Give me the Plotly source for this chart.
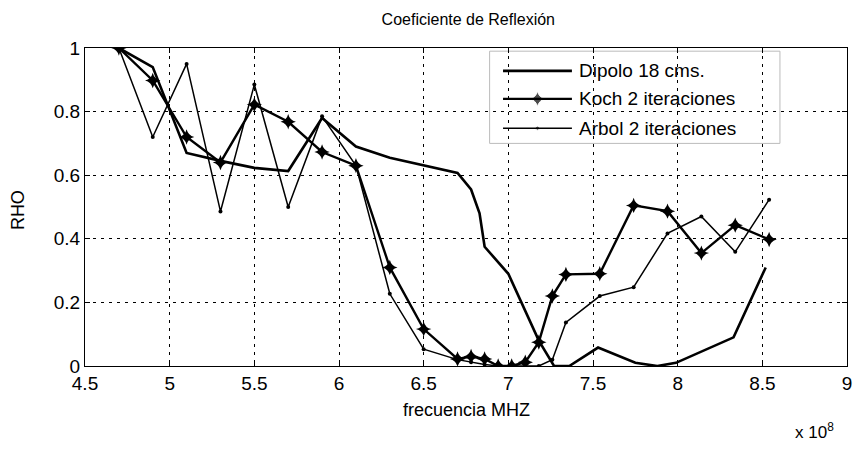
import plotly.graph_objects as go

# Frequency samples (x 10^8 Hz)
freq_dipolo = [4.7, 4.9, 5.1, 5.3, 5.5, 5.7, 5.9, 6.1, 6.3, 6.5, 6.7, 6.78, 6.83, 6.86,
               7.0, 7.18, 7.25, 7.27, 7.36, 7.53, 7.75, 7.88, 7.99, 8.33, 8.52]
rho_dipolo = [1.0, 0.94, 0.67, 0.645, 0.623, 0.613, 0.78, 0.69, 0.655, 0.632, 0.607, 0.555, 0.48, 0.375,
              0.29, 0.08, 0.016, 0.0, 0.0, 0.058, 0.01, 0.0, 0.01, 0.09, 0.31]

freq_koch = [4.7, 4.9, 5.1, 5.3, 5.5, 5.7, 5.9, 6.1, 6.3, 6.5, 6.7, 6.78, 6.86, 6.94,
             7.02, 7.1, 7.18, 7.26, 7.34, 7.54, 7.74, 7.94, 8.14, 8.34, 8.54]
rho_koch = [1.0, 0.898, 0.72, 0.64, 0.822, 0.768, 0.673, 0.63, 0.31, 0.116, 0.022, 0.03, 0.022, 0.0,
            0.0, 0.012, 0.075, 0.22, 0.288, 0.29, 0.505, 0.487, 0.355, 0.443, 0.398]

freq_arbol = [4.7, 4.9, 5.1, 5.3, 5.5, 5.7, 5.9, 6.1, 6.3, 6.5, 6.7, 6.78, 6.86, 6.94,
              7.02, 7.1, 7.18, 7.26, 7.34, 7.54, 7.74, 7.94, 8.14, 8.34, 8.54]
rho_arbol = [1.0, 0.72, 0.95, 0.486, 0.885, 0.50, 0.785, 0.63, 0.227, 0.053, 0.02, 0.012, 0.005, 0.0,
             0.0, 0.0, 0.0, 0.02, 0.137, 0.22, 0.248, 0.417, 0.47, 0.359, 0.523]

x_ticks = [4.5, 5, 5.5, 6, 6.5, 7, 7.5, 8, 8.5, 9]
x_tick_text = ["4.5", "5", "5.5", "6", "6.5", "7", "7.5", "8", "8.5", "9"]
y_ticks = [0, 0.2, 0.4, 0.6, 0.8, 1]
y_tick_text = ["0", "0.2", "0.4", "0.6", "0.8", "1"]

series_names = ["Dipolo 18 cms.", "Koch 2 iteraciones", "Arbol 2 iteraciones"]
line_widths = [2.6, 2.4, 1.5]

FONT = "Liberation Sans, Arial, sans-serif"
X_RANGE = [4.5, 9]
Y_RANGE = [0, 1]

fig = go.Figure()

fig.add_trace(go.Scatter(x=freq_dipolo, y=rho_dipolo, mode="lines",
                         line=dict(color="black", width=line_widths[0]), name=series_names[0]))
fig.add_trace(go.Scatter(x=freq_koch, y=rho_koch, mode="lines+markers",
                         line=dict(color="black", width=line_widths[1]),
                         marker=dict(symbol="star-diamond", size=11, color="black"),
                         name=series_names[1]))
fig.add_trace(go.Scatter(x=freq_arbol, y=rho_arbol, mode="lines+markers",
                         line=dict(color="black", width=line_widths[2]),
                         marker=dict(symbol="circle", size=4, color="black"),
                         name=series_names[2]))

# Hand-built legend box (paper coordinates)
leg_x0, leg_x1 = 0.531, 0.912
leg_y0, leg_y1 = 0.70, 0.99
row_y = [0.928, 0.840, 0.748]
line_x0, line_x1, text_x = 0.5486, 0.639, 0.6457

def paper_to_x(p):
    return X_RANGE[0] + p * (X_RANGE[1] - X_RANGE[0])

def paper_to_y(p):
    return Y_RANGE[0] + p * (Y_RANGE[1] - Y_RANGE[0])

shapes = [dict(type="rect", xref="paper", yref="paper", x0=leg_x0, x1=leg_x1, y0=leg_y0, y1=leg_y1,
               line=dict(color="#bbbbbb", width=1), fillcolor="white", layer="between")]
for ry, w in zip(row_y, line_widths):
    shapes.append(dict(type="line", xref="paper", yref="paper", x0=line_x0, x1=line_x1, y0=ry, y1=ry,
                       line=dict(color="black", width=w), layer="above"))

# Legend sample markers
mid_x = paper_to_x((line_x0 + line_x1) / 2)
fig.add_trace(go.Scatter(x=[mid_x, mid_x], y=[paper_to_y(row_y[1]), paper_to_y(row_y[2])],
                         mode="markers",
                         marker=dict(symbol=["star-diamond", "circle"], size=[11, 4], color="black"),
                         showlegend=False, hoverinfo="skip", cliponaxis=False))

annotations = []
for ry, name in zip(row_y, series_names):
    annotations.append(dict(x=text_x, y=ry, xref="paper", yref="paper", text=name, showarrow=False,
                            xanchor="left", yanchor="middle", font=dict(family=FONT, size=19, color="black")))
annotations.append(dict(x=-0.088, y=0.49, xref="paper", yref="paper", text="RHO", textangle=-90,
                        showarrow=False, xanchor="center", yanchor="middle",
                        font=dict(family=FONT, size=18, color="black")))
annotations.append(dict(x=0.5, y=-0.138, xref="paper", yref="paper", text="frecuencia MHZ",
                        showarrow=False, xanchor="center", yanchor="middle",
                        font=dict(family=FONT, size=18, color="black")))
annotations.append(dict(x=0.985, y=-0.165, xref="paper", yref="paper", text="x 10<sup>8</sup>",
                        showarrow=False, xanchor="right", yanchor="top",
                        font=dict(family=FONT, size=17, color="black")))

fig.update_layout(
    width=853, height=449,
    margin=dict(l=85, r=6, t=48, b=83),
    paper_bgcolor="white", plot_bgcolor="white",
    showlegend=False,
    font=dict(family=FONT, size=18, color="black"),
    title=dict(text="Coeficiente de Reflexión", x=0.549, xanchor="center",
               y=1 - 19 / 449, yanchor="middle", font=dict(family=FONT, size=16, color="black")),
    xaxis=dict(range=X_RANGE, tickvals=x_ticks, ticktext=x_tick_text,
               showgrid=True, gridcolor="black", gridwidth=1, griddash="3px,5px",
               showline=True, linecolor="black", linewidth=1, mirror="ticks",
               ticks="inside", ticklen=5, tickcolor="black", zeroline=False, automargin=False,
               tickfont=dict(family=FONT, size=19)),
    yaxis=dict(range=Y_RANGE, tickvals=y_ticks, ticktext=y_tick_text,
               showgrid=True, gridcolor="black", gridwidth=1, griddash="3px,5px",
               showline=True, linecolor="black", linewidth=1, mirror="ticks",
               ticks="inside", ticklen=5, tickcolor="black", zeroline=False, automargin=False,
               tickfont=dict(family=FONT, size=19)),
    shapes=shapes,
    annotations=annotations,
)

fig.write_html("out.html")
